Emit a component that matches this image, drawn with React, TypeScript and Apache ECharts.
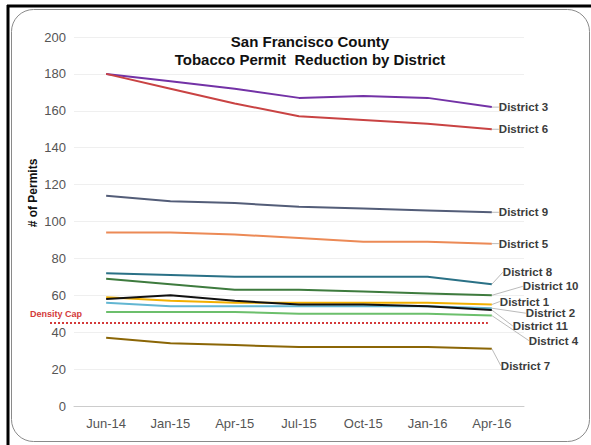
import React, { useEffect, useRef } from "react";
import * as echarts from "echarts";

const categories = ["Jun-14", "Jan-15", "Apr-15", "Jul-15", "Oct-15", "Jan-16", "Apr-16"];
const yTicks = { min: 0, max: 200, interval: 20 };

const district3 = [180, 176, 172, 167, 168, 167, 162];
const district6 = [180, 172, 164, 157, 155, 153, 150];
const district9 = [114, 111, 110, 108, 107, 106, 105];
const district5 = [94, 94, 93, 91, 89, 89, 88];
const district8 = [72, 71, 70, 70, 70, 70, 66];
const district10 = [69, 66, 63, 63, 62, 61, 60];
const district1 = [59, 57, 56, 56, 56, 56, 55];
const district2 = [56, 54, 54, 54, 54, 54, 53];
const district11 = [58, 60, 57, 55, 55, 54, 52];
const district4 = [51, 51, 51, 50, 50, 50, 49];
const district7 = [37, 34, 33, 32, 32, 32, 31];
const densityCap = 45;

const seriesDefs = [
  { name: "District 3", data: district3, color: "#7332a6", dx: 1, dy: 0 },
  { name: "District 6", data: district6, color: "#c94343", dx: 1, dy: 0 },
  { name: "District 9", data: district9, color: "#535d78", dx: 1, dy: 0 },
  { name: "District 5", data: district5, color: "#ec8a56", dx: 1, dy: 0 },
  { name: "District 8", data: district8, color: "#2a7186", dx: 5, dy: -12 },
  { name: "District 10", data: district10, color: "#3e7b3e", dx: 25, dy: -9 },
  { name: "District 1", data: district1, color: "#f2b000", dx: 2, dy: -3 },
  { name: "District 2", data: district2, color: "#62b6d2", dx: 28, dy: 5 },
  { name: "District 11", data: district11, color: "#111111", dx: 15, dy: 16 },
  { name: "District 4", data: district4, color: "#6cbf6c", dx: 31, dy: 25 },
  { name: "District 7", data: district7, color: "#8b6606", dx: 3, dy: 17 },
];

export default function App() {
  const ref = useRef<HTMLDivElement>(null);
  useEffect(() => {
    if (!ref.current) return;
    const chart = echarts.init(ref.current, undefined, { renderer: "svg" });
    const font = "Liberation Sans, Arial, Helvetica, sans-serif";
    const last = categories.length - 1;
    const series: any[] = seriesDefs.map((s) => ({
      name: s.name,
      type: "line",
      data: s.data.map((v, i) =>
        i === last
          ? {
              value: v,
              label: {
                show: true,
                position: "right",
                distance: 6,
                formatter: s.name,
                color: "#3c3c3c",
                fontWeight: "bold",
                fontSize: 11.5,
                fontFamily: font,
                opacity: 1,
              },
            }
          : v
      ),
      showSymbol: true,
      symbol: "circle",
      symbolSize: 0,
      itemStyle: { color: s.color },
      lineStyle: { color: s.color, width: 2 },
      color: s.color,
      labelLayout: { dx: s.dx, dy: s.dy },
      labelLine: { show: true, lineStyle: { color: "#bbbbbb", width: 1 } },
      emphasis: { disabled: true },
      z: 3,
    }));

    chart.setOption({
      animation: false,
      backgroundColor: "#ffffff",
      title: {
        text: "San Francisco County\nTobacco Permit  Reduction by District",
        left: 305,
        top: 27,
        textAlign: "center",
        textStyle: {
          fontFamily: font,
          fontWeight: "bold",
          fontSize: 15,
          lineHeight: 18,
          color: "#111",
        },
      },
      grid: { left: 74, right: 67, top: 37, bottom: 39 },
      xAxis: {
        type: "category",
        data: categories,
        boundaryGap: true,
        axisLine: { lineStyle: { color: "#cccccc" } },
        axisTick: { show: false },
        axisLabel: { color: "#555", fontSize: 13, fontFamily: font, margin: 11 },
      },
      yAxis: {
        type: "value",
        min: yTicks.min,
        max: yTicks.max,
        interval: yTicks.interval,
        axisLine: { show: false },
        axisTick: { show: false },
        axisLabel: { color: "#555", fontSize: 13, fontFamily: font, margin: 8 },
        splitLine: { lineStyle: { color: "#efefef" } },
      },
      series,
    });

    const capY = chart.convertToPixel({ yAxisIndex: 0 }, densityCap) as number;
    const lastX = chart.convertToPixel({ xAxisIndex: 0 }, last) as number;

    chart.setOption({
      graphic: [
        { type: "line", shape: { x1: 7, y1: 6, x2: 591, y2: 6 }, style: { stroke: "#000", lineWidth: 3 } },
        { type: "line", shape: { x1: 8, y1: 5, x2: 8, y2: 445 }, style: { stroke: "#000", lineWidth: 3 } },
        {
          type: "rect",
          shape: { x: 11.5, y: 9.5, width: 578, height: 432, r: 22 },
          style: { fill: "none", stroke: "#8a8a8a", lineWidth: 1 },
        },
        {
          type: "line",
          shape: { x1: 50, y1: capY, x2: lastX - 4, y2: capY },
          style: { stroke: "#d43a3a", lineWidth: 2, lineDash: [2, 2] },
          z: 2,
        },
        {
          type: "text",
          x: 30,
          y: capY - 9,
          style: {
            text: "Density Cap",
            fill: "#d43a3a",
            font: `bold 9px ${font}`,
            textAlign: "left",
            textVerticalAlign: "middle",
          },
        },
        {
          type: "text",
          x: 33,
          y: 193,
          rotation: Math.PI / 2,
          style: {
            text: "# of Permits",
            fill: "#111",
            font: `bold 12px ${font}`,
            textAlign: "center",
            textVerticalAlign: "middle",
          },
        },
      ],
    });

    return () => chart.dispose();
  }, []);
  return (
    <div
      ref={ref}
      style={{ position: "fixed", left: 0, top: 0, width: 591, height: 445 }}
    />
  );
}
